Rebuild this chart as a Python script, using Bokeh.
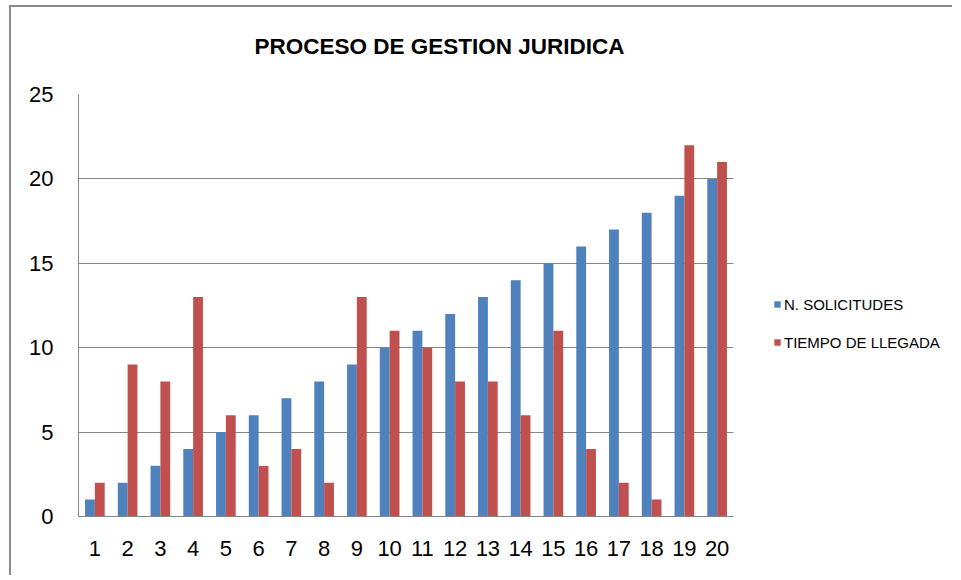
from bokeh.plotting import figure
from bokeh.layouts import row
from bokeh.models import ColumnDataSource, FixedTicker, Legend, LegendItem, Title
from bokeh.transform import dodge
from bokeh.embed import file_html
from bokeh.resources import INLINE

title_text = "PROCESO DE GESTION JURIDICA"
categories = ["1", "2", "3", "4", "5", "6", "7", "8", "9", "10",
              "11", "12", "13", "14", "15", "16", "17", "18", "19", "20"]
positions = [1, 2, 3, 4, 5, 6, 7, 8, 9, 10, 11, 12, 13, 14, 15, 16, 17, 18, 19, 20]
solicitudes = [1, 2, 3, 4, 5, 6, 7, 8, 9, 10, 11, 12, 13, 14, 15, 16, 17, 18, 19, 20]
tiempo = [2, 9, 8, 13, 6, 3, 4, 2, 13, 11, 10, 8, 8, 6, 11, 4, 2, 1, 22, 21]
series_names = ["N. SOLICITUDES", "TIEMPO DE LLEGADA"]
y_ticks = [0, 5, 10, 15, 20, 25]

BLUE = "#4F81BD"
RED = "#C0504D"
GRID = "#868686"
FONT = "Liberation Sans"

src = ColumnDataSource(dict(x=positions, sol=solicitudes, tie=tiempo))

p = figure(width=741, height=568, x_range=(0.5, 20.5), y_range=(0, 25),
           output_backend="svg", toolbar_location=None,
           min_border_left=67, min_border_right=19, min_border_bottom=59,
           min_border_top=87)

p.title.text = title_text
p.title.text_font = FONT
p.title.text_font_size = "22.5px"
p.title.text_font_style = "bold"
p.title.text_color = "#000000"
p.title.align = "left"
p.title.vertical_align = "top"
p.title.offset = 176
p.title.standoff = 51

# small spacer between the title and the plot frame
p.add_layout(Title(text=" ", text_font_size="1px", standoff=5), "above")

r1 = p.vbar(x=dodge("x", -0.15, range=p.x_range), top="sol", width=0.3, bottom=0,
            source=src, fill_color=BLUE, line_color=None)
r2 = p.vbar(x=dodge("x", 0.15, range=p.x_range), top="tie", width=0.3, bottom=0,
            source=src, fill_color=RED, line_color=None)

p.outline_line_color = None
p.background_fill_color = "white"
p.border_fill_color = "white"

p.xgrid.grid_line_color = None
p.ygrid.grid_line_color = GRID
p.ygrid.grid_line_width = 1
p.ygrid.ticker = FixedTicker(ticks=y_ticks)

p.xaxis.ticker = FixedTicker(ticks=positions)
p.xaxis.major_label_overrides = {pos: lab for pos, lab in zip(positions, categories)}
p.yaxis.ticker = FixedTicker(ticks=y_ticks)

for ax in (p.xaxis[0], p.yaxis[0]):
    ax.axis_line_color = GRID
    ax.major_tick_line_color = None
    ax.minor_tick_line_color = None
    ax.major_label_text_font = FONT
    ax.major_label_text_font_size = "22px"
    ax.major_label_text_color = "#000000"
p.xaxis.major_label_standoff = 18
p.yaxis.major_label_standoff = 19

# legend panel: a separate canvas to the right of the plot (frames are aligned in the row)
pl = figure(width=200, height=568, x_range=(-2, -1), y_range=(-2, -1),
            output_backend="svg", toolbar_location=None,
            x_axis_location=None, y_axis_location=None, min_border=0)
pl.grid.visible = False
pl.outline_line_color = None
pl.background_fill_color = "white"
pl.border_fill_color = "white"
# same series, lying outside this panel's visible range; only their legend swatches show
l1 = pl.vbar(x=dodge("x", -0.15, range=pl.x_range), top="sol", width=0.3, bottom=0,
             source=src, fill_color=BLUE, line_color=None)
l2 = pl.vbar(x=dodge("x", 0.15, range=pl.x_range), top="tie", width=0.3, bottom=0,
             source=src, fill_color=RED, line_color=None)

legend = Legend(items=[LegendItem(label=series_names[0], renderers=[l1]),
                       LegendItem(label=series_names[1], renderers=[l2])],
                location=(21, 164), orientation="vertical",
                padding=0, margin=0, spacing=18,
                glyph_width=8, glyph_height=8, label_height=20,
                label_standoff=3,
                label_text_font=FONT, label_text_font_size="15px",
                label_text_color="#000000",
                border_line_color=None, background_fill_alpha=0)
pl.add_layout(legend, "center")

layout = row(p, pl)
layout.styles = {"border-top": "2px solid #8a8a8a", "border-left": "2px solid #8a8a8a",
                 "margin-left": "9px", "margin-top": "5px"}

open("out.html", "w").write(file_html(layout, INLINE))
